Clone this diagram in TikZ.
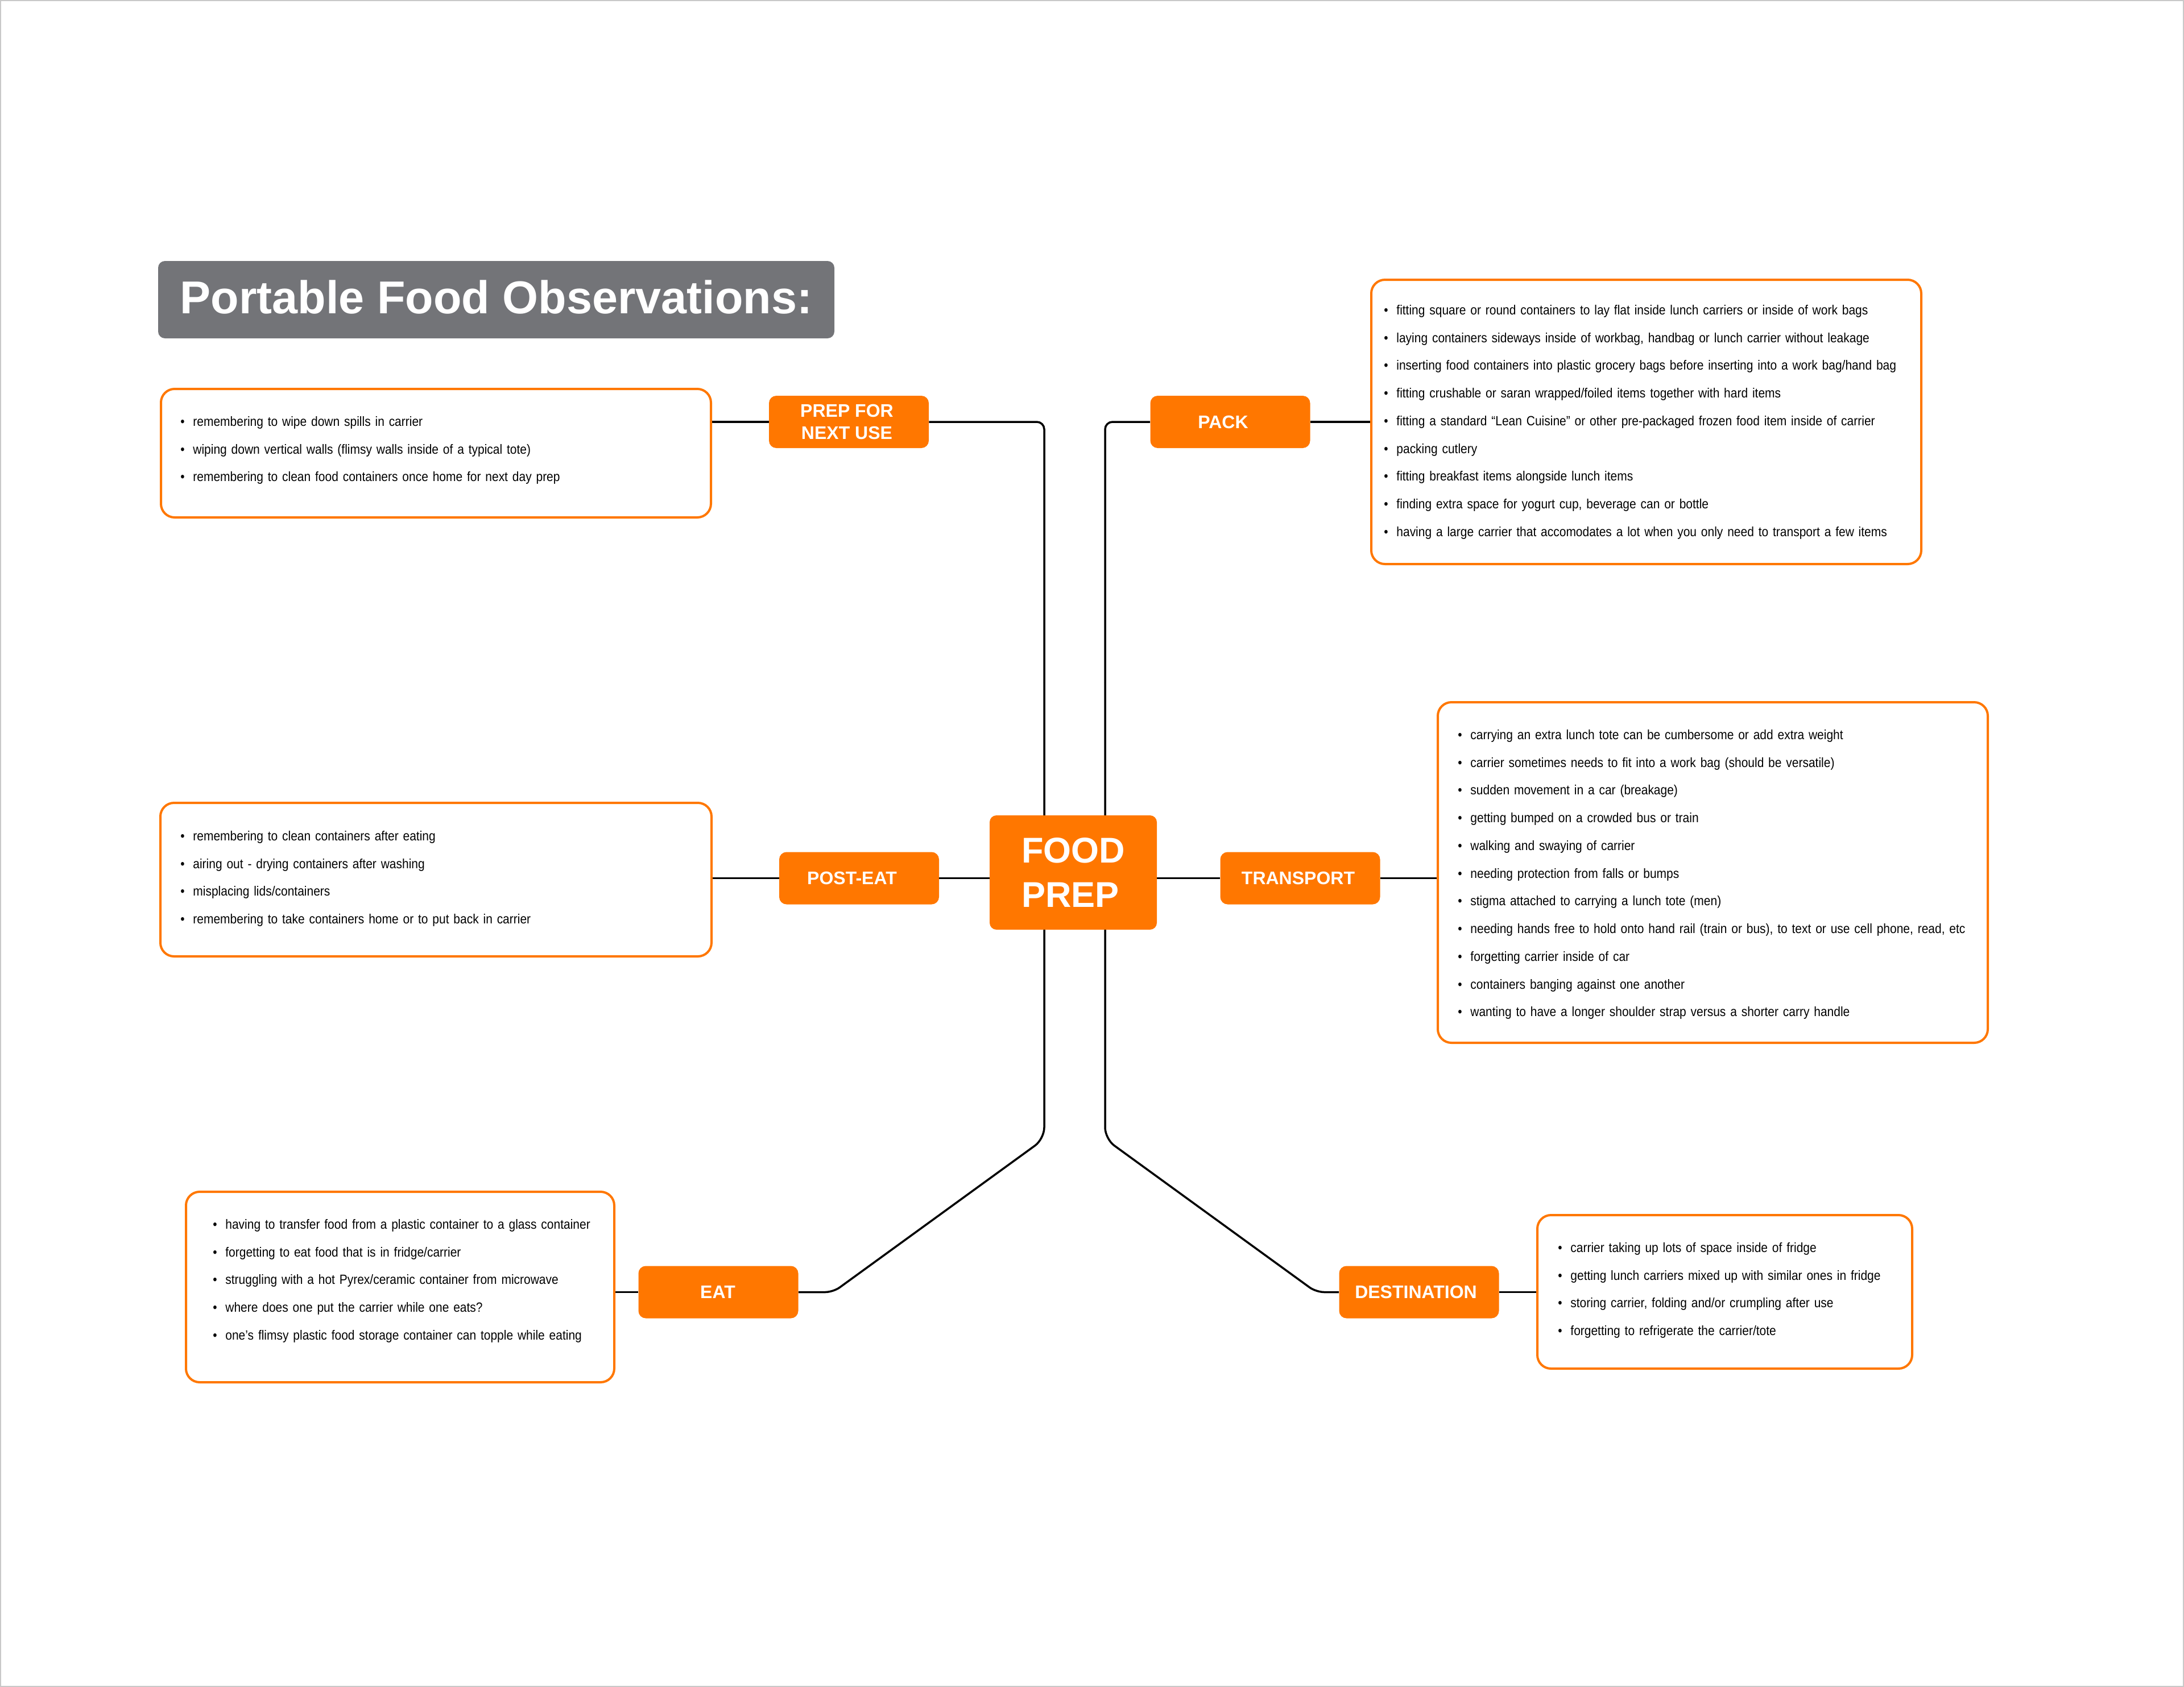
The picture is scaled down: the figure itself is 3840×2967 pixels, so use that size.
\documentclass[tikz,border=0pt]{standalone}
\usepackage{fontspec}
\setmainfont{Liberation Sans}
\newfontfamily\notefam[FakeStretch=0.893]{Liberation Sans}
\usetikzlibrary{backgrounds,calc}
\definecolor{orng}{RGB}{255,119,0}
\definecolor{ttlgray}{RGB}{115,116,120}
\definecolor{framegray}{RGB}{200,200,200}
\newcommand\ntxt{\notefam\fontsize{11.75}{24.375}\selectfont}
\newcommand\lbltxt{\bfseries\fontsize{16}{19.15}\selectfont}
\newcommand\ctrtxt{\bfseries\fontsize{31.5}{39}\selectfont}
\newcommand\ttltxt{\bfseries\fontsize{40.5}{48}\selectfont}
\newcommand\bitem{\rule{0pt}{10pt}\makebox[11pt][l]{•}}
\tikzset{
  lbl/.style={rectangle, rounded corners=6.5pt, fill=orng, text=white, font=\lbltxt,
    minimum width=140.5pt, minimum height=46pt, inner sep=0pt, align=center},
  notebox/.style={rectangle, rounded corners=12pt, draw=orng, line width=2pt, fill=white, inner sep=0pt},
  notetext/.style={anchor=north west, inner sep=0pt, align=left, text width=470pt, font=\ntxt, text=black},
  conn/.style={draw=black, line width=1.75pt},
}
\begin{document}
\begin{tikzpicture}[x=0.5pt,y=-0.5pt]
\useasboundingbox (0,0) rectangle (3840,2967);
\draw[framegray, line width=1pt] (1,1) rectangle (3839,2966);

% title
\node[rectangle, rounded corners=6pt, fill=ttlgray, text=white, font=\ttltxt,
  minimum width=594.5pt, minimum height=68pt, inner sep=0pt, text height=27pt, text depth=3pt]
  (title) at (872.5,527) {Portable Food Observations:};

% centre
\node[rectangle, rounded corners=6pt, fill=orng, text=white, font=\ctrtxt,
  minimum width=147pt, minimum height=100.5pt, inner sep=0pt, align=left]
  (food) at (1887,1534.5) {FOOD\\PREP};

% labels
\node[lbl] (prep)  at (1492.5,742)  {PREP FOR\hspace*{3.5pt}\\NEXT USE\hspace*{3.5pt}};
\node[lbl] (pack)  at (2163,742)    {PACK\hspace*{12.5pt}};
\node[lbl] (post)  at (1510.5,1544.5) {POST-EAT\hspace*{12.5pt}};
\node[lbl] (trans) at (2286,1544.5) {TRANSPORT\hspace*{3.5pt}};
\node[lbl] (eat)   at (1263,2272.5) {EAT\hspace*{1pt}};
\node[lbl] (dest)  at (2495,2272.5) {DESTINATION\hspace*{5.5pt}};

% note boxes
\node[notebox, minimum width=483.5pt, minimum height=113pt]   (pn) at (766.5,797) {};
\node[notebox, minimum width=483.5pt, minimum height=250pt]   (pk) at (2894.5,742) {};
\node[notebox, minimum width=484.5pt, minimum height=135pt]   (po) at (766.5,1547) {};
\node[notebox, minimum width=483.5pt, minimum height=299.5pt] (tr) at (3011.5,1534.5) {};
\node[notebox, minimum width=376.5pt, minimum height=167.5pt] (et) at (703.5,2263.5) {};
\node[notebox, minimum width=329.5pt, minimum height=135pt]   (ds) at (3032.5,2272) {};

% note texts
\node[notetext] (pnt) at (317,729) {%
\bitem remembering to wipe down spills in carrier\\
\bitem wiping down vertical walls (flimsy walls inside of a typical tote)\\
\bitem remembering to clean food containers once home for next day prep};

\node[notetext] (pkt) at (2433,533) {%
\bitem fitting square or round containers to lay flat inside lunch carriers or inside of work bags\\
\bitem laying containers sideways inside of workbag, handbag or lunch carrier without leakage\\
\bitem inserting food containers into plastic grocery bags before inserting into a work bag/hand bag\\
\bitem fitting crushable or saran wrapped/foiled items together with hard items\\
\bitem fitting a standard “Lean Cuisine” or other pre-packaged frozen food item inside of carrier\\
\bitem packing cutlery\\
\bitem fitting breakfast items alongside lunch items\\
\bitem finding extra space for yogurt cup, beverage can or bottle\\
\bitem having a large carrier that accomodates a lot when you only need to transport a few items};

\node[notetext] (pot) at (317,1458) {%
\bitem remembering to clean containers after eating\\
\bitem airing out - drying containers after washing\\
\bitem misplacing lids/containers\\
\bitem remembering to take containers home or to put back in carrier};

\node[notetext] (trt) at (2563,1280) {%
\bitem carrying an extra lunch tote can be cumbersome or add extra weight\\
\bitem carrier sometimes needs to fit into a work bag (should be versatile)\\
\bitem sudden movement in a car (breakage)\\
\bitem getting bumped on a crowded bus or train\\
\bitem walking and swaying of carrier\\
\bitem needing protection from falls or bumps\\
\bitem stigma attached to carrying a lunch tote (men)\\
\bitem needing hands free to hold onto hand rail (train or bus), to text or use cell phone, read, etc\\
\bitem forgetting carrier inside of car\\
\bitem containers banging against one another\\
\bitem wanting to have a longer shoulder strap versus a shorter carry handle};

\node[notetext] (ett) at (374,2141) {%
\bitem having to transfer food from a plastic container to a glass container\\
\bitem forgetting to eat food that is in fridge/carrier\\
\bitem struggling with a hot Pyrex/ceramic container from microwave\\
\bitem where does one put the carrier while one eats?\\
\bitem one’s flimsy plastic food storage container can topple while eating};

\node[notetext] (dst) at (2739,2182) {%
\bitem carrier taking up lots of space inside of fridge\\
\bitem getting lunch carriers mixed up with similar ones in fridge\\
\bitem storing carrier, folding and/or crumpling after use\\
\bitem forgetting to refrigerate the carrier/tote};

% connector helper points
\coordinate (lm) at (1836,1200);
\coordinate (rm) at (1943,1200);
\coordinate (lv) at (1836,2003);
\coordinate (rv) at (1943,2003);
\coordinate (lb) at (1465,2272.5);
\coordinate (rb) at (2314,2272.5);
\coordinate (ld) at ($(lv)!0.5!(lb)$);
\coordinate (rd) at ($(rv)!0.5!(rb)$);

\begin{scope}[on background layer]
\draw[conn] (prep.west) -- (prep.west -| pn.east);
\draw[conn] (pack.east) -- (pack.east -| pk.west);
\draw[conn] (post.west) -- (post.west -| po.east);
\draw[conn] (post.east) -- (post.east -| food.west);
\draw[conn] (trans.west) -- (trans.west -| food.east);
\draw[conn] (trans.east) -- (trans.east -| tr.west);
\draw[conn] (eat.west) -- (eat.west -| et.east);
\draw[conn] (dest.east) -- (dest.east -| ds.west);
\draw[conn, rounded corners=6.5pt] (prep.east) -- (prep.east -| lm) -- (lm);
\draw[conn, rounded corners=10pt] (lm) -- (lv) -- (ld);
\draw[conn, rounded corners=7pt] (ld) -- (lb) -- (eat.east);
\draw[conn, rounded corners=6.5pt] (pack.west) -- (pack.west -| rm) -- (rm);
\draw[conn, rounded corners=10pt] (rm) -- (rv) -- (rd);
\draw[conn, rounded corners=7pt] (rd) -- (rb) -- (dest.west);
\end{scope}
\end{tikzpicture}
\end{document}
